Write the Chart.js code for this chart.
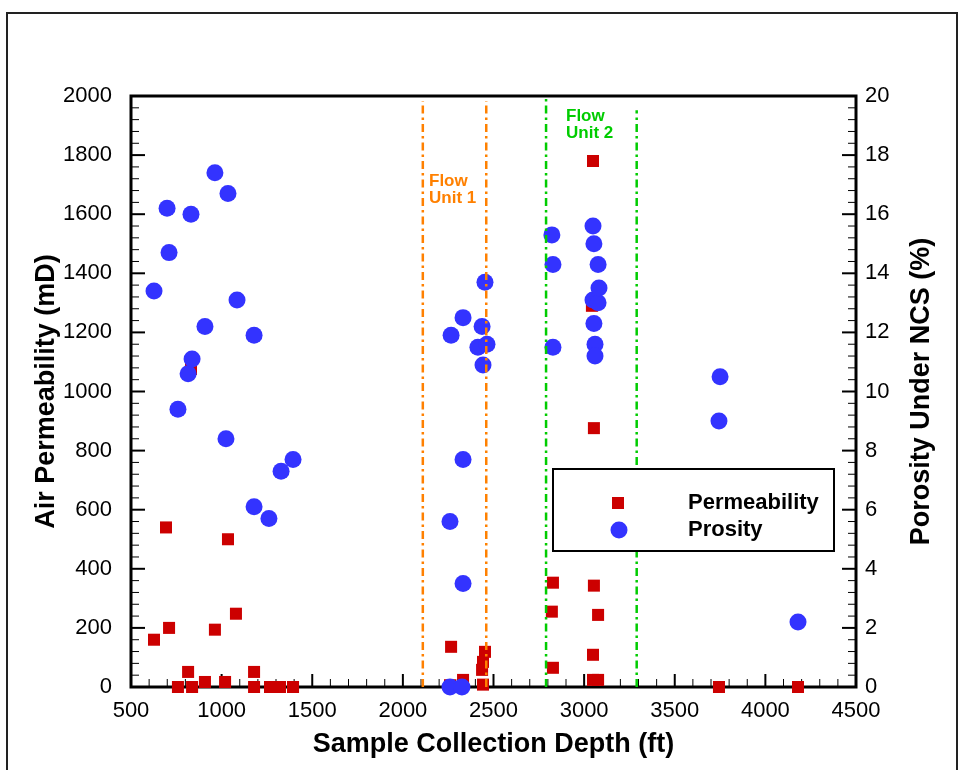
<!DOCTYPE html>
<html>
<head>
<meta charset="utf-8">
<script src="https://cdn.jsdelivr.net/npm/chart.js@4.4.1/dist/chart.umd.min.js"></script>
<style>
  html, body { margin: 0; padding: 0; background: #fff; }
  canvas { display: block; }
</style>
</head>
<body>
<canvas id="chart" width="959" height="770"></canvas>
<script>
// Air permeability samples: depth (ft) and permeability (mD)
const permDepth = [627, 693, 710, 759, 815, 831, 837, 908, 963, 1019, 1035, 1079, 1179, 1179, 1267, 1322, 1394,
  2260, 2266, 2332, 2437, 2442, 2442, 2453,
  2822, 2828, 2828, 3043, 3049, 3049, 3049, 3054, 3054, 3077, 3077,
  3744, 4180];
const permValues = [160, 540, 200, 0, 51, 1076, 0, 17, 194, 17, 500, 248, 51, 0, 0, 0, 0,
  6, 136, 24, 58, 85, 8, 119,
  255, 353, 65, 1290, 1780, 109, 24, 876, 343, 244, 24,
  0, 0];

// Porosity samples under NCS: depth (ft) and porosity (%)
const poroDepth = [627, 699, 710, 759, 815, 831, 837, 908, 963, 1024, 1035, 1085, 1179, 1179, 1261, 1328, 1394,
  2260, 2260, 2266, 2326, 2332, 2332, 2332, 2414, 2437, 2442, 2453, 2464,
  2822, 2828, 2828, 3049, 3049, 3054, 3054, 3060, 3060, 3077, 3077, 3082,
  3744, 3750, 4180];
const poroValues = [13.4, 16.2, 14.7, 9.4, 10.6, 16.0, 11.1, 12.2, 17.4, 8.4, 16.7, 13.1, 11.9, 6.1, 5.7, 7.3, 7.7,
  5.6, 0, 11.9, 0, 12.5, 7.7, 3.5, 11.5, 12.2, 10.9, 13.7, 11.6,
  15.3, 14.3, 11.5, 15.6, 13.1, 15.0, 12.3, 11.6, 11.2, 14.3, 13.0, 13.5,
  9.0, 10.5, 2.2];

// Flow unit boundaries (depth, ft) and the permeability level each boundary line reaches
const flowUnit1Bounds = [2110, 2460];
const flowUnit1Tops = [1983, 1983];
const flowUnit2Bounds = [2790, 3290];
const flowUnit2Tops = [1993, 1952];

// Axis ticks
const depthTicks = [500, 1000, 1500, 2000, 2500, 3000, 3500, 4000, 4500];
const permTicks = [0, 200, 400, 600, 800, 1000, 1200, 1400, 1600, 1800, 2000];
const poroTicks = [0, 2, 4, 6, 8, 10, 12, 14, 16, 18, 20];
const depthMinorStep = 100;
const permMinorStep = 40;

const RED = '#cc0000';
const BLUE = '#3333ff';
const ORANGE = '#ff8000';
const GREEN = '#00cc00';
const FONT = "'Liberation Sans', Arial, sans-serif";

const pairs = (xs, ys) => xs.map((x, i) => ({ x, y: ys[i] }));
const boundary = (x, top) => [{ x, y: 0 }, { x, y: top }];
const plain = v => String(v);

function boundaryDataset(x, top, color) {
  return {
    type: 'scatter',
    data: boundary(x, top),
    showLine: true,
    borderColor: color,
    borderWidth: 2.5,
    borderDash: [8, 4, 2.5, 4],
    pointRadius: 0,
    yAxisID: 'y',
    order: 0
  };
}

// Frame, inward tick marks (major and minor), drawn beneath the markers
const frameAndTicks = {
  id: 'frameAndTicks',
  beforeDatasetsDraw(chart) {
    const { ctx, chartArea: a, scales } = chart;
    const seg = (x1, y1, x2, y2) => { ctx.beginPath(); ctx.moveTo(x1, y1); ctx.lineTo(x2, y2); ctx.stroke(); };
    ctx.save();
    ctx.strokeStyle = '#000';
    const xs = scales.x, ys = scales.y;
    for (let v = xs.min; v <= xs.max; v += depthMinorStep) {
      const major = depthTicks.includes(v);
      const px = xs.getPixelForValue(v);
      ctx.lineWidth = major ? 2 : 1;
      seg(px, a.bottom, px, a.bottom - (major ? 13 : 8));
    }
    for (let v = ys.min; v <= ys.max; v += permMinorStep) {
      const major = permTicks.includes(v);
      const py = ys.getPixelForValue(v);
      ctx.lineWidth = major ? 2 : 1;
      const len = major ? 14 : 8;
      seg(a.left, py, a.left + len, py);
      seg(a.right, py, a.right - len, py);
    }
    ctx.lineWidth = 3;
    ctx.strokeRect(a.left, a.top, a.right - a.left, a.bottom - a.top);
    ctx.restore();
  }
};

// Flow unit captions, legend, right axis title and outer border
const annotations = {
  id: 'annotations',
  afterDraw(chart) {
    const { ctx, chartArea: a } = chart;
    ctx.save();

    ctx.font = `bold 17px ${FONT}`;
    ctx.textAlign = 'left';
    ctx.textBaseline = 'alphabetic';
    ctx.fillStyle = ORANGE;
    ctx.fillText('Flow', 429, 186);
    ctx.fillText('Unit 1', 429, 203);
    ctx.fillStyle = GREEN;
    ctx.fillText('Flow', 566, 121);
    ctx.fillText('Unit 2', 566, 138);

    // legend
    ctx.fillStyle = '#fff';
    ctx.fillRect(553, 469, 281, 82);
    ctx.strokeStyle = '#000';
    ctx.lineWidth = 2;
    ctx.strokeRect(553, 469, 281, 82);
    ctx.fillStyle = RED;
    ctx.fillRect(612, 497, 12, 12);
    ctx.fillStyle = BLUE;
    ctx.beginPath();
    ctx.arc(619, 530, 8.5, 0, Math.PI * 2);
    ctx.fill();
    ctx.fillStyle = '#000';
    ctx.font = `bold 22px ${FONT}`;
    ctx.textBaseline = 'middle';
    ctx.fillText('Permeability', 688, 503);
    ctx.fillText('Prosity', 688, 530);

    // right axis title, reading bottom to top
    ctx.save();
    ctx.translate(922, (a.top + a.bottom) / 2);
    ctx.rotate(-Math.PI / 2);
    ctx.textAlign = 'center';
    ctx.font = `bold 27px ${FONT}`;
    ctx.fillText('Porosity Under NCS (%)', 0, 0);
    ctx.restore();

    // outer border
    ctx.strokeStyle = '#222';
    ctx.lineWidth = 2;
    ctx.beginPath();
    ctx.moveTo(7, 770);
    ctx.lineTo(7, 13);
    ctx.lineTo(957, 13);
    ctx.lineTo(957, 770);
    ctx.stroke();
    ctx.restore();
  }
};

new Chart(document.getElementById('chart'), {
  type: 'scatter',
  data: {
    datasets: [
      boundaryDataset(flowUnit1Bounds[0], flowUnit1Tops[0], ORANGE),
      boundaryDataset(flowUnit1Bounds[1], flowUnit1Tops[1], ORANGE),
      boundaryDataset(flowUnit2Bounds[0], flowUnit2Tops[0], GREEN),
      boundaryDataset(flowUnit2Bounds[1], flowUnit2Tops[1], GREEN),
      {
        label: 'Prosity',
        data: pairs(poroDepth, poroValues),
        yAxisID: 'y2',
        pointStyle: 'circle',
        pointRadius: 8.5,
        pointBackgroundColor: BLUE,
        pointBorderWidth: 0,
        clip: false,
        order: 1
      },
      {
        label: 'Permeability',
        data: pairs(permDepth, permValues),
        yAxisID: 'y',
        pointStyle: 'rect',
        pointRadius: 8.5,
        pointBackgroundColor: RED,
        pointBorderWidth: 0,
        clip: false,
        order: 2
      }
    ]
  },
  options: {
    responsive: false,
    animation: false,
    events: [],
    layout: { padding: { top: 96, left: 0, right: 0, bottom: 0 } },
    plugins: { legend: { display: false }, tooltip: { enabled: false }, title: { display: false } },
    scales: {
      x: {
        type: 'linear',
        min: 500, max: 4500,
        afterBuildTicks: s => { s.ticks = depthTicks.map(value => ({ value })); },
        afterFit: s => { s.height = 83; },
        grid: { display: false, drawTicks: false },
        border: { display: false },
        ticks: { color: '#000', padding: 11, callback: plain, font: { family: FONT, size: 22 } },
        title: {
          display: true, text: 'Sample Collection Depth (ft)', color: '#000',
          font: { family: FONT, size: 27, weight: 'bold' }, padding: { top: 0, bottom: 9 }
        }
      },
      y: {
        type: 'linear', position: 'left',
        min: 0, max: 2000,
        afterBuildTicks: s => { s.ticks = permTicks.map(value => ({ value })); },
        afterFit: s => { s.width = 131; },
        grid: { display: false, drawTicks: false },
        border: { display: false },
        ticks: { color: '#000', padding: 19, callback: plain, font: { family: FONT, size: 22 } },
        title: {
          display: true, text: 'Air Permeability (mD)', color: '#000',
          font: { family: FONT, size: 27, weight: 'bold' }, padding: { top: 30, bottom: 0 }
        }
      },
      y2: {
        type: 'linear', position: 'right',
        min: 0, max: 20,
        afterBuildTicks: s => { s.ticks = poroTicks.map(value => ({ value })); },
        afterFit: s => { s.width = 103; },
        grid: { display: false, drawTicks: false },
        border: { display: false },
        ticks: { color: '#000', padding: 9, callback: plain, font: { family: FONT, size: 22 } }
      }
    }
  },
  plugins: [frameAndTicks, annotations]
});
</script>
</body>
</html>
